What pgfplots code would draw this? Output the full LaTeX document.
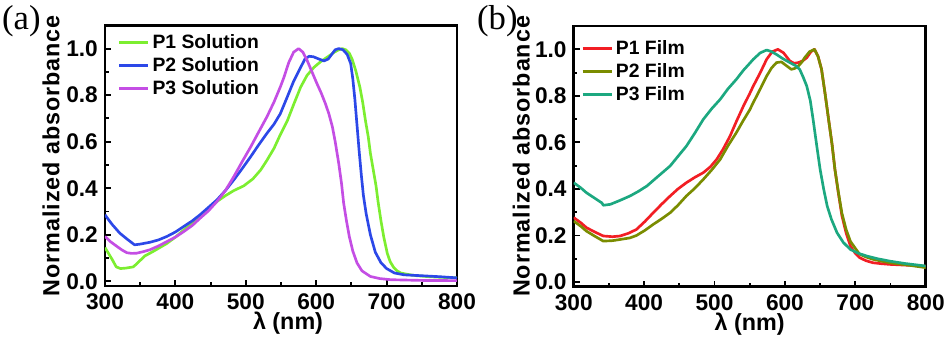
\documentclass[border=0pt]{standalone}
\usepackage{fontspec}
\setmainfont{Liberation Sans}
\newfontfamily\seriffont{Liberation Serif}
\newfontfamily\spacedfont[LetterSpace=4]{Liberation Sans}
\usepackage{pgfplots}
\pgfplotsset{compat=1.18}

\definecolor{cGreen}{RGB}{124,238,48}
\definecolor{cBlue}{RGB}{44,72,232}
\definecolor{cPurple}{RGB}{196,78,228}
\definecolor{cRed}{RGB}{242,30,36}
\definecolor{cOlive}{RGB}{122,140,0}
\definecolor{cTeal}{RGB}{28,168,128}

\pgfplotsset{
  spec/.style={
    scale only axis,
    width=264pt, height=195.5pt,
    xmin=300, xmax=800, ymin=-0.02, ymax=1.1,
    xtick={300,400,500,600,700,800},
    ytick={0,0.2,0.4,0.6,0.8,1.0},
    minor x tick num=1, minor y tick num=1,
    xtick pos=bottom, ytick pos=left,
    tick align=inside,
    major tick length=4.5pt, minor tick length=2.8pt,
    every tick/.style={black, line width=1.4pt},
    axis line style={line width=2pt},
    /pgf/number format/assume math mode=true,
    yticklabel style={/pgf/number format/fixed, /pgf/number format/fixed zerofill,
                      /pgf/number format/precision=1, inner sep=1pt, xshift=-4.2pt},
    xticklabel style={inner sep=1pt, yshift=-4.4pt},
    tick label style={font=\fontsize{17}{17}\selectfont\bfseries},
    xlabel style={font=\fontsize{17.5}{17.5}\selectfont\bfseries},
    ylabel style={font=\spacedfont\fontsize{17.5}{17.5}\selectfont\bfseries, inner sep=0pt},
    xlabel={λ (nm)},
    ylabel={Normalized absorbance},
    legend style={draw=none, fill=none, font=\fontsize{14.5}{14.5}\selectfont\bfseries,
                  row sep=1.2pt, inner sep=0pt, anchor=north west},
    legend cell align=left,
    legend image code/.code={\draw[#1, line width=2.2pt] (0pt,0pt) -- (22pt,0pt);},
    every axis plot/.append style={line width=2pt, line join=round},
  }
}

\begin{document}
\begin{tikzpicture}
\useasboundingbox (0,0) rectangle (710.25pt,254.25pt);

\node[font=\seriffont\fontsize{26}{26}\selectfont] at (16pt,238pt) {(a)};
\node[font=\seriffont\fontsize{26}{26}\selectfont] at (373pt,238pt) {(b)};

% (a) solution
\begin{axis}[spec, at={(78.75pt,39.75pt)}, anchor=south west,
  xlabel style={at={(axis description cs:0.52,-0.142)}, anchor=center},
  ylabel style={at={(axis description cs:-0.153,0.5)}, anchor=center},
  legend style={at={(axis description cs:0.035,0.975)}},
]
\addplot[cGreen] coordinates {
(300,0.145)(305,0.12)(310,0.095)(316,0.062)(322,0.055)(330,0.057)(340,0.062)
(345,0.075)(350,0.09)(357,0.11)(364,0.121)(375,0.14)(388,0.163)(400,0.19)
(412,0.221)(424,0.25)(435,0.279)(447,0.31)(459,0.343)(471,0.368)(483,0.39)
(497,0.41)(510,0.44)(521,0.478)(530,0.52)(540,0.571)(549,0.63)(559,0.69)
(568,0.76)(578,0.835)(587,0.885)(597,0.92)(606,0.943)(616,0.964)(626,0.985)
(632,0.995)(637,1.0)(642,0.995)(647,0.98)(651,0.955)(656,0.907)(662,0.835)
(666,0.77)(670,0.69)(674,0.62)(677,0.55)(681,0.48)(685,0.41)(688,0.34)
(692,0.26)(696,0.19)(701,0.12)(705,0.085)(710,0.06)(715,0.045)(720,0.036)
(730,0.03)(740,0.025)(760,0.02)(780,0.017)(800,0.015)
};
\addlegendentry{P1 Solution}
\addplot[cBlue] coordinates {
(300,0.286)(305,0.265)(310,0.245)(321,0.207)(332,0.18)(342,0.157)(350,0.16)
(364,0.168)(376,0.178)(388,0.193)(400,0.212)(412,0.236)(424,0.26)(435,0.286)
(447,0.318)(459,0.35)(471,0.39)(483,0.436)(495,0.485)(507,0.536)(518,0.585)
(530,0.636)(540,0.675)(549,0.72)(559,0.793)(568,0.86)(578,0.92)(584,0.955)
(590,0.967)(596,0.965)(604,0.955)(611,0.947)(617,0.955)(622,0.975)(627,0.995)
(632,1.0)(638,0.995)(644,0.975)(649,0.936)(652,0.87)(655,0.78)(658,0.67)
(661,0.56)(664,0.46)(667,0.37)(671,0.29)(677,0.2)(684,0.125)(692,0.08)
(700,0.055)(711,0.036)(725,0.028)(750,0.024)(775,0.02)(800,0.015)
};
\addlegendentry{P2 Solution}
\addplot[cPurple] coordinates {
(300,0.193)(308,0.17)(317,0.15)(324,0.135)(331,0.123)(338,0.12)(345,0.121)
(355,0.128)(364,0.136)(376,0.152)(388,0.171)(400,0.19)(412,0.214)(424,0.24)
(435,0.271)(447,0.303)(459,0.343)(471,0.39)(483,0.45)(495,0.515)(507,0.578)
(518,0.64)(530,0.707)(540,0.77)(549,0.835)(554,0.875)(561,0.94)(568,0.985)
(575,1.0)(581,0.985)(587,0.95)(594,0.9)(601,0.85)(607,0.81)(613,0.764)
(618,0.72)(623,0.664)(627,0.6)(632,0.507)(636,0.42)(639,0.336)(643,0.26)
(647,0.193)(652,0.13)(658,0.079)(665,0.045)(677,0.021)(690,0.012)(706,0.007)
(750,0.004)(800,0.003)
};
\addlegendentry{P3 Solution}
\end{axis}

% (b) film
\begin{axis}[spec, at={(430.3pt,39.2pt)}, anchor=south west,
  xlabel style={at={(axis description cs:0.5,-0.142)}, anchor=center},
  ylabel style={at={(axis description cs:-0.149,0.5)}, anchor=center},
  legend style={at={(axis description cs:0.02,0.955)}},
]
\addplot[cRed] coordinates {
(300,0.277)(310,0.255)(318,0.234)(330,0.215)(342,0.198)(355,0.195)(366,0.198)
(378,0.21)(389,0.226)(401,0.26)(413,0.298)(425,0.335)(437,0.37)(448,0.4)
(460,0.427)(472,0.45)(484,0.47)(494,0.495)(503,0.527)(512,0.57)(522,0.627)
(531,0.69)(541,0.756)(550,0.81)(555,0.842)(565,0.9)(574,0.957)(582,0.99)
(590,1.0)(598,0.985)(607,0.95)(613,0.94)(619,0.943)(625,0.95)(631,0.964)
(637,0.99)(642,1.0)(647,0.97)(652,0.914)(657,0.81)(662,0.699)(667,0.59)
(671,0.484)(676,0.38)(681,0.284)(687,0.21)(693,0.155)(700,0.123)(706,0.105)
(715,0.092)(725,0.083)(737,0.079)(749,0.076)(770,0.073)(800,0.068)
};
\addlegendentry{P1 Film}
\addplot[cOlive] coordinates {
(300,0.262)(310,0.24)(318,0.219)(330,0.197)(342,0.176)(355,0.178)(366,0.183)
(380,0.19)(389,0.2)(401,0.222)(413,0.248)(425,0.272)(437,0.298)(448,0.33)
(460,0.37)(472,0.403)(484,0.441)(496,0.482)(508,0.527)(519,0.585)(531,0.642)
(540,0.69)(550,0.74)(555,0.771)(565,0.83)(574,0.885)(581,0.92)(588,0.943)
(595,0.946)(602,0.93)(609,0.914)(614,0.918)(619,0.928)(624,0.945)(628,0.964)
(635,0.99)(642,1.0)(647,0.97)(652,0.914)(657,0.81)(662,0.699)(667,0.59)
(671,0.484)(676,0.385)(681,0.295)(687,0.225)(693,0.175)(700,0.145)(706,0.12)
(715,0.108)(725,0.098)(737,0.09)(749,0.083)(770,0.075)(800,0.062)
};
\addlegendentry{P2 Film}
\addplot[cTeal] coordinates {
(300,0.427)(310,0.405)(318,0.384)(330,0.36)(340,0.34)(342,0.33)(352,0.334)
(365,0.35)(380,0.37)(392,0.39)(404,0.413)(420,0.455)(437,0.499)(448,0.54)
(460,0.584)(472,0.64)(484,0.699)(496,0.745)(508,0.785)(519,0.83)(531,0.871)
(541,0.91)(550,0.94)(555,0.957)(565,0.985)(574,0.997)(581,0.99)(588,0.978)
(597,0.96)(607,0.943)(615,0.93)(621,0.914)(626,0.88)(631,0.842)(636,0.78)
(640,0.699)(645,0.59)(650,0.484)(655,0.4)(660,0.327)(666,0.27)(674,0.212)
(683,0.17)(693,0.14)(704,0.124)(716,0.112)(732,0.1)(749,0.09)(770,0.08)
(800,0.069)
};
\addlegendentry{P3 Film}
\end{axis}
\end{tikzpicture}
\end{document}
